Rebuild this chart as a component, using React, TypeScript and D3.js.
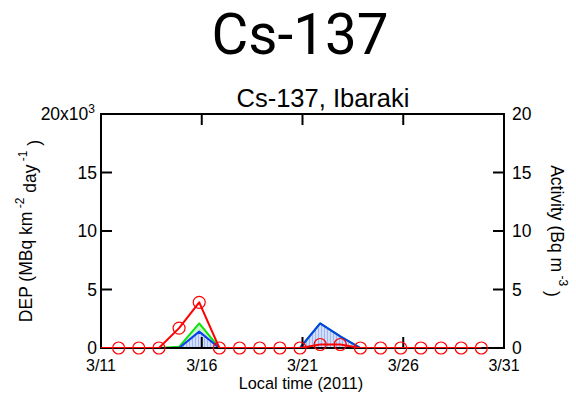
import React from "react";
import * as d3 from "d3";

// Sampling days (daily values, 3/12 – 3/30, 2011)
const sampleDays: string[] = [
  "2011-03-12", "2011-03-13", "2011-03-14", "2011-03-15", "2011-03-16",
  "2011-03-17", "2011-03-18", "2011-03-19", "2011-03-20", "2011-03-21",
  "2011-03-22", "2011-03-23", "2011-03-24", "2011-03-25", "2011-03-26",
  "2011-03-27", "2011-03-28", "2011-03-29", "2011-03-30",
];

// Air activity, Bq m^-3 (right axis)
const activity: number[] = [0, 0, 0, 1.7, 3.9, 0, 0, 0, 0, 0, 0.3, 0.3, 0, 0, 0, 0, 0, 0, 0];

// Total deposition, MBq km^-2 day^-1 (left axis)
const depTotal: number[] = [0, 0, 0, 100, 2100, 0, 0, 0, 0, 0, 2100, 1000, 0, 0, 0, 0, 0, 0, 0];

// Wet/dry component of deposition, MBq km^-2 day^-1 (left axis)
const depPart: number[] = [0, 0, 0, 0, 1400, 0, 0, 0, 0, 0, 2100, 1000, 0, 0, 0, 0, 0, 0, 0];

const xTickLabels: string[] = ["3/11", "3/16", "3/21", "3/26", "3/31"];
const xTickDates: string[] = ["2011-03-11", "2011-03-16", "2011-03-21", "2011-03-26", "2011-03-31"];
const leftTicks: number[] = [0, 5000, 10000, 15000, 20000];
const rightTicks: number[] = [0, 5, 10, 15, 20];

const W = 576;
const H = 395;
const M = { left: 101, right: 72, top: 114, bottom: 47 };

const parse = d3.timeParse("%Y-%m-%d");
// daily samples are stamped at 21:00 of the previous day
const sampleTime = (s: string) => d3.timeHour.offset(parse(s) as Date, -3);

export default function App() {
  const x = d3
    .scaleTime()
    .domain([parse("2011-03-11") as Date, parse("2011-03-31") as Date])
    .range([M.left, W - M.right]);
  const yL = d3.scaleLinear().domain([0, 20000]).range([H - M.bottom, M.top]);
  const yR = d3.scaleLinear().domain([0, 20]).range([H - M.bottom, M.top]);

  const times = sampleDays.map(sampleTime);
  const x0 = M.left;
  const x1 = W - M.right;
  const y0 = H - M.bottom;
  const y1 = M.top;

  type P = { t: Date; v: number };
  const mk = (vals: number[]): P[] => vals.map((v, i) => ({ t: times[i], v }));

  const areaL = d3
    .area<P>()
    .x((d) => x(d.t))
    .y0(yL(0))
    .y1((d) => yL(d.v));
  const lineL = d3
    .line<P>()
    .x((d) => x(d.t))
    .y((d) => yL(d.v));
  const lineR = d3
    .line<P>()
    .x((d) => x(d.t))
    .y((d) => yR(d.v));

  const totalPts = mk(depTotal);
  const partPts = mk(depPart);
  const actPts = mk(activity);
  // activity trace starts at the left edge of the period
  const actLine = [{ t: parse("2011-03-11") as Date, v: 0 }, ...actPts];

  const tickLen = 11;
  const font = "Arial, 'Liberation Sans', Helvetica, sans-serif";

  return (
    <svg
      width={W}
      height={H}
      style={{ position: "absolute", left: 0, top: 0, background: "#fff" }}
      fontFamily={font}
    >
      <defs>
        <pattern id="hatch" width="3" height="4" patternUnits="userSpaceOnUse">
          <rect width="3" height="4" fill="#d2def9" />
          <rect x="0" width="1" height="4" fill="#9fb7ef" />
        </pattern>
        <clipPath id="plotClip">
          <rect x={x0} y={y1} width={x1 - x0} height={y0 - y1} />
        </clipPath>
      </defs>

      <text x={300} y={53.5} textAnchor="middle" fontFamily="Roboto, sans-serif" fontSize={56.5} fill="#000">
        Cs-137
      </text>
      <text x={323} y={107} textAnchor="middle" fontSize={25.5} fill="#000">
        Cs-137, Ibaraki
      </text>

      <g clipPath="url(#plotClip)">
        <path d={areaL(totalPts) ?? ""} fill="#c9f7c9" />
        <path d={areaL(partPts) ?? ""} fill="url(#hatch)" />
        <path d={lineL(totalPts) ?? ""} fill="none" stroke="#10e010" strokeWidth={2} strokeLinejoin="round" />
        <path d={lineL(partPts) ?? ""} fill="none" stroke="#0a3cf0" strokeWidth={2} strokeLinejoin="round" />
      </g>

      {/* frame */}
      <rect x={x0} y={y1} width={x1 - x0} height={y0 - y1} fill="none" stroke="#000" strokeWidth={2} />

      {/* ticks */}
      {leftTicks.slice(1, -1).map((t) => (
        <line key={"l" + t} x1={x0} x2={x0 + tickLen} y1={yL(t)} y2={yL(t)} stroke="#000" strokeWidth={2} />
      ))}
      {rightTicks.slice(1, -1).map((t) => (
        <line key={"r" + t} x1={x1} x2={x1 - tickLen} y1={yR(t)} y2={yR(t)} stroke="#000" strokeWidth={2} />
      ))}
      {xTickDates.slice(1, -1).map((s) => {
        const xx = x(parse(s) as Date);
        return (
          <g key={"x" + s}>
            <line x1={xx} x2={xx} y1={y0} y2={y0 - tickLen} stroke="#000" strokeWidth={2} />
            <line x1={xx} x2={xx} y1={y1} y2={y1 + tickLen} stroke="#000" strokeWidth={2} />
          </g>
        );
      })}

      {/* activity */}
      <g clipPath="url(#plotClip)">
        <path d={lineR(actLine) ?? ""} fill="none" stroke="#ff0000" strokeWidth={2} strokeLinejoin="round" />
      </g>
      {actPts.map((d, i) => (
        <circle key={"c" + i} cx={x(d.t)} cy={yR(d.v)} r={6} fill="none" stroke="#ff0000" strokeWidth={1.2} />
      ))}

      {/* left tick labels */}
      {leftTicks.map((t) =>
        t === 20000 ? (
          <text key={"ll" + t} x={95} y={yL(t)} dy="0.36em" textAnchor="end" fontSize={17.5} fill="#000">
            20x10
            <tspan fontSize={12} dy="-0.6em">3</tspan>
          </text>
        ) : (
          <text key={"ll" + t} x={97} y={yL(t)} dy="0.36em" textAnchor="end" fontSize={17.5} fill="#000">
            {t / 1000}
          </text>
        )
      )}
      {/* right tick labels */}
      {rightTicks.map((t) => (
        <text key={"rl" + t} x={512} y={yR(t)} dy="0.36em" textAnchor="start" fontSize={17.5} fill="#000">
          {t}
        </text>
      ))}
      {/* x tick labels */}
      {xTickDates.map((s, i) => (
        <text key={"xl" + s} x={x(parse(s) as Date)} y={371} textAnchor="middle" fontSize={16} fill="#000">
          {xTickLabels[i]}
        </text>
      ))}

      <text x={301} y={389} textAnchor="middle" fontSize={16.3} fill="#000">
        Local time (2011)
      </text>

      <text transform={`translate(32,231) rotate(-90)`} textAnchor="middle" fontSize={17.5} fill="#000">
        DEP (MBq km
        <tspan fontSize={12} dy="-0.7em"> -2</tspan>
        <tspan dy="0.7em"> day</tspan>
        <tspan fontSize={12} dy="-0.7em"> -1</tspan>
        <tspan dy="0.7em">  )</tspan>
      </text>
      <text transform={`translate(551,231) rotate(90)`} textAnchor="middle" fontSize={17.5} fill="#000">
        Activity (Bq m
        <tspan fontSize={12} dy="-0.7em"> -3</tspan>
        <tspan dy="0.7em">  )</tspan>
      </text>
    </svg>
  );
}
